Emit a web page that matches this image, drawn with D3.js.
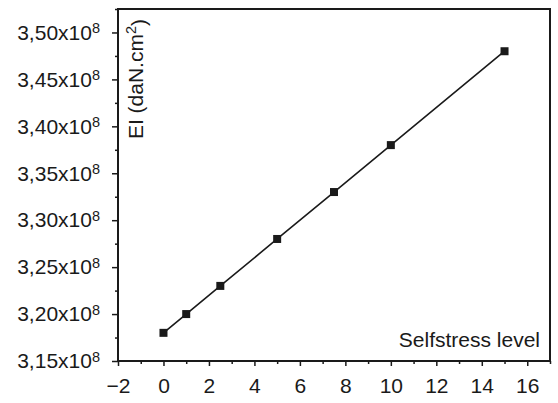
<!DOCTYPE html>
<html>
<head>
<meta charset="utf-8">
<script src="https://cdn.jsdelivr.net/npm/d3@7"></script>
<style>
  body { margin: 0; background: #fff; }
  svg { display: block; }
  text { font-family: "Liberation Sans", Arial, sans-serif; fill: #1a1a1a; }
</style>
</head>
<body>
<svg id="chart"></svg>
<script>
// data
var selfstress = [0, 1, 2.5, 5, 7.5, 10, 15];
var ei_value = [3.18, 3.20, 3.23, 3.28, 3.33, 3.38, 3.48]; // x10^8 daN.cm2

var x_ticks = [-2, 0, 2, 4, 6, 8, 10, 12, 14, 16];
var x_minor = [-1, 1, 3, 5, 7, 9, 11, 13, 15, 17];
var y_ticks = [3.15, 3.20, 3.25, 3.30, 3.35, 3.40, 3.45, 3.50];
var y_minor = [3.175, 3.225, 3.275, 3.325, 3.375, 3.425, 3.475, 3.525];

var width = 558, height = 403;
// plot frame (note: "top" is a reserved window property, so prefix these)
var plot_left = 118, plot_right = 550, plot_top = 9, plot_bottom = 361;
var ink = "#1a1a1a";
var fs = "21px", fs_sup = "14.5px";

var svg = d3.select("#chart").attr("width", width).attr("height", height);

var xscale = d3.scaleLinear().domain([-2, 17]).range([plot_left, plot_right]);
var yscale = d3.scaleLinear().domain([3.15, 3.525]).range([plot_bottom, plot_top]);

// minor ticks first
svg.append("g")
    .attr("transform", "translate(0," + plot_bottom + ")")
    .call(d3.axisBottom(xscale).tickValues(x_minor).tickSize(3).tickFormat(""))
    .call(function (g) { g.select(".domain").remove(); });
svg.append("g")
    .attr("transform", "translate(" + plot_left + ",0)")
    .call(d3.axisLeft(yscale).tickValues(y_minor).tickSize(3).tickFormat(""))
    .call(function (g) { g.select(".domain").remove(); });

var xaxis = svg.append("g")
    .attr("transform", "translate(0," + plot_bottom + ")")
    .call(d3.axisBottom(xscale).tickValues(x_ticks).tickSize(5).tickPadding(12)
        .tickFormat(function (d) { return d < 0 ? "\u2212" + (-d) : d; }));
xaxis.select(".domain").remove();
xaxis.selectAll("text").style("font-size", fs);

var yaxis = svg.append("g")
    .attr("transform", "translate(" + plot_left + ",0)")
    .call(d3.axisLeft(yscale).tickValues(y_ticks).tickSize(6).tickPadding(12).tickFormat(""));
yaxis.select(".domain").remove();
yaxis.selectAll(".tick text")
    .style("font-size", fs)
    .each(function (d) {
        var t = d3.select(this);
        t.append("tspan").text(d.toFixed(2).replace(".", ",") + "x10");
        t.append("tspan").attr("dy", "-0.45em").style("font-size", fs_sup).text("8");
    });

svg.selectAll(".tick line").attr("stroke", ink).attr("stroke-width", 1.5);

// frame
svg.append("rect")
    .attr("x", plot_left).attr("y", plot_top)
    .attr("width", plot_right - plot_left).attr("height", plot_bottom - plot_top)
    .attr("fill", "none").attr("stroke", ink).attr("stroke-width", 2);

// series
var valueline = d3.line()
    .x(function (d, i) { return xscale(selfstress[i]); })
    .y(function (d) { return yscale(d); });

svg.append("path")
    .attr("d", valueline(ei_value))
    .attr("fill", "none")
    .attr("stroke", ink)
    .attr("stroke-width", 1.6);

svg.append("g").selectAll("rect")
    .data(ei_value)
    .join("rect")
    .attr("x", function (d, i) { return xscale(selfstress[i]) - 4; })
    .attr("y", function (d) { return yscale(d) - 4; })
    .attr("width", 8).attr("height", 8)
    .attr("fill", ink);

// axis titles inside the frame
svg.append("text")
    .attr("x", 540).attr("y", 347)
    .attr("text-anchor", "end")
    .style("font-size", fs)
    .text("Selfstress level");

var ylab = svg.append("text")
    .attr("transform", "translate(143,19) rotate(-90)")
    .attr("text-anchor", "end")
    .style("font-size", fs);
ylab.append("tspan").text("EI (daN.cm");
ylab.append("tspan").attr("dy", "-0.45em").style("font-size", fs_sup).text("2");
ylab.append("tspan").attr("dy", "0.45em").text(")");
</script>
</body>
</html>
